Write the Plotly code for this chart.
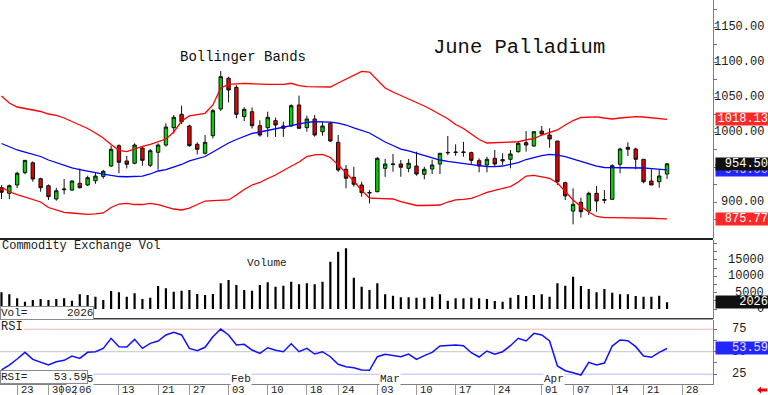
import plotly.graph_objects as go

# ---------------- data ----------------
dates = [
    "2024-12-19", "2024-12-20", "2024-12-23", "2024-12-24", "2024-12-26", "2024-12-27", "2024-12-30", "2024-12-31",
    "2025-01-02", "2025-01-03", "2025-01-06", "2025-01-07", "2025-01-08", "2025-01-09", "2025-01-10", "2025-01-13",
    "2025-01-14", "2025-01-15", "2025-01-16", "2025-01-17", "2025-01-21", "2025-01-22", "2025-01-23", "2025-01-24",
    "2025-01-27", "2025-01-28", "2025-01-29", "2025-01-30", "2025-01-31",
    "2025-02-03", "2025-02-04", "2025-02-05", "2025-02-06", "2025-02-07", "2025-02-10", "2025-02-11", "2025-02-12",
    "2025-02-13", "2025-02-14", "2025-02-18", "2025-02-19", "2025-02-20", "2025-02-21", "2025-02-24", "2025-02-25",
    "2025-02-26", "2025-02-27", "2025-02-28",
    "2025-03-03", "2025-03-04", "2025-03-05", "2025-03-06", "2025-03-07", "2025-03-10", "2025-03-11", "2025-03-12",
    "2025-03-13", "2025-03-14", "2025-03-17", "2025-03-18", "2025-03-19", "2025-03-20", "2025-03-21", "2025-03-24",
    "2025-03-25", "2025-03-26", "2025-03-27", "2025-03-28", "2025-03-31",
    "2025-04-01", "2025-04-02", "2025-04-03", "2025-04-04", "2025-04-07", "2025-04-08", "2025-04-09", "2025-04-10",
    "2025-04-11", "2025-04-14", "2025-04-15", "2025-04-16", "2025-04-17", "2025-04-21", "2025-04-22", "2025-04-23",
    "2025-04-24",
]
future_dates = ["2025-04-25", "2025-04-28"]

opens = [920.4, 912.4, 924.3, 941.9, 956.0, 933.3, 923.3, 904.3, 917.5, 917.0,
         926.7, 924.3, 930.4, 936.6, 951.4, 980.4, 958.6, 955.3, 977.1, 952.4,
         971.0, 981.4, 1006.2, 1025.3, 1008.6, 982.4, 969.6, 994.7, 1032.9, 1076.7,
         1063.8, 1021.9, 1029.0, 1009.0, 1006.2, 1016.2, 1008.6, 1008.6, 1038.6, 1006.2,
         1018.6, 1000.4, 1012.4, 985.3, 946.7, 935.3, 924.3, 912.8, 914.7, 948.1,
         953.6, 954.3, 948.1, 951.4, 939.6, 947.1, 954.3, 970.2, 970.7, 970.7,
         970.5, 959.0, 952.9, 962.4, 958.6, 961.0, 971.9, 984.8, 980.0, 1001.4,
         995.7, 987.1, 927.6, 887.1, 899.6, 887.1, 912.4, 902.4, 903.8, 953.9,
         978.1, 975.7, 961.0, 930.0, 929.0, 940.0]
highs = [924.0, 925.0, 943.3, 960.0, 958.0, 934.7, 925.0, 920.4, 932.9, 931.0,
         948.0, 937.6, 942.4, 945.7, 980.4, 982.4, 965.7, 983.8, 979.0, 975.7,
         983.8, 1012.4, 1024.3, 1037.6, 1010.4, 985.3, 995.7, 1032.9, 1087.0, 1079.0,
         1067.0, 1035.3, 1035.0, 1016.7, 1029.0, 1020.5, 1014.7, 1039.5, 1051.9, 1023.3,
         1024.3, 1014.7, 1013.8, 995.7, 952.9, 950.4, 929.0, 917.0, 964.0, 961.4,
         968.6, 960.0, 961.4, 971.9, 950.4, 960.5, 970.0, 994.3, 982.4, 986.0,
         971.9, 962.4, 964.8, 974.3, 969.6, 974.3, 987.1, 1001.4, 1001.4, 1008.6,
         1005.3, 987.1, 929.0, 919.6, 906.2, 914.7, 922.9, 917.0, 953.9, 977.6,
         985.3, 977.6, 961.0, 946.7, 946.7, 955.5]
lows = [904.3, 904.0, 920.0, 939.6, 929.0, 914.7, 902.9, 901.9, 911.0, 916.0,
        919.5, 922.9, 926.0, 933.3, 950.0, 941.0, 948.0, 953.9, 951.9, 950.0,
        946.1, 979.0, 998.0, 1011.4, 979.0, 968.0, 968.0, 991.0, 1030.0, 1042.4,
        1019.6, 1015.7, 1005.0, 993.3, 993.0, 993.0, 993.0, 1007.6, 1004.3, 1000.4,
        993.3, 994.7, 986.1, 943.3, 919.6, 921.9, 907.6, 898.0, 914.0, 936.0,
        943.3, 936.0, 942.4, 937.6, 932.4, 940.0, 940.0, 967.0, 966.0, 964.7,
        952.9, 942.4, 942.4, 951.4, 952.9, 948.1, 970.5, 971.9, 979.0, 995.7,
        977.6, 924.3, 902.9, 868.1, 877.6, 881.4, 886.2, 898.0, 903.8, 941.0,
        965.7, 946.7, 926.7, 924.3, 920.4, 932.9]
closes = [913.9, 923.3, 941.0, 959.5, 932.9, 920.4, 907.6, 916.0, 918.5, 930.0,
          920.4, 934.7, 937.0, 943.9, 975.3, 956.7, 953.9, 981.4, 959.5, 973.3,
          981.4, 1007.1, 1021.0, 1014.7, 980.5, 975.3, 985.3, 1030.4, 1079.0, 1060.0,
          1025.3, 1032.4, 1009.0, 995.7, 1021.0, 1010.0, 1005.3, 1037.6, 1005.3, 1018.6,
          995.7, 1008.6, 987.1, 945.7, 933.9, 925.3, 913.3, 913.6, 962.4, 954.3,
          954.2, 949.6, 955.3, 940.0, 946.7, 952.9, 969.6, 970.8, 971.3, 971.3,
          959.5, 951.4, 961.0, 954.3, 960.5, 968.6, 983.8, 981.4, 1000.4, 997.1,
          990.0, 929.0, 908.6, 896.7, 886.2, 912.4, 901.4, 903.4, 951.9, 975.7,
          975.3, 961.0, 929.0, 924.3, 937.1, 954.5]

bb_upper = [1051.4, 1041.4, 1035.7, 1033.6, 1031.4, 1029.3, 1025.7, 1023.6, 1020.0, 1015.0,
            1010.0, 1005.0, 998.6, 991.4, 982.1, 973.6, 971.9, 976.0, 979.3, 982.4,
            985.7, 990.0, 1000.0, 1015.7, 1022.9, 1025.0, 1026.7, 1038.6, 1062.9, 1068.1,
            1069.3, 1069.6, 1068.9, 1068.1, 1068.1, 1068.1, 1068.1, 1069.6, 1066.4, 1064.7,
            1064.7, 1064.7, 1064.3, 1070.0, 1075.7, 1081.4, 1086.7, 1085.7, 1074.3, 1062.9,
            1057.1, 1052.1, 1047.9, 1042.9, 1037.1, 1031.4, 1025.7, 1018.9, 1010.7, 1005.0,
            997.1, 989.3, 984.3, 984.6, 985.0, 985.7, 986.1, 988.6, 990.7, 995.7,
            999.3, 1002.9, 1010.0, 1016.4, 1020.7, 1021.4, 1021.7, 1020.0, 1018.6, 1020.0,
            1021.4, 1021.9, 1021.4, 1020.0, 1018.9, 1018.13]
bb_mid = [983.6, 979.3, 974.3, 971.4, 968.6, 965.0, 960.0, 956.4, 952.9, 948.6,
          946.4, 943.9, 942.1, 939.7, 937.9, 936.4, 936.1, 936.1, 937.1, 940.0,
          944.3, 946.4, 950.0, 953.6, 958.6, 962.1, 965.0, 971.4, 977.9, 984.3,
          989.3, 993.1, 997.9, 1000.0, 1002.4, 1004.6, 1007.1, 1008.9, 1011.1, 1013.6,
          1014.7, 1014.7, 1014.0, 1012.6, 1010.0, 1006.0, 1002.1, 998.6, 992.1, 985.7,
          980.7, 975.7, 972.9, 969.7, 966.4, 962.9, 960.0, 958.1, 956.4, 955.0,
          953.6, 952.1, 950.7, 950.4, 951.4, 953.6, 956.4, 960.7, 963.6, 966.4,
          968.1, 967.1, 964.7, 961.4, 957.9, 954.3, 951.4, 949.3, 949.3, 949.6,
          949.6, 949.6, 948.6, 947.6, 946.7, 946.0]
bb_lower = [921.4, 914.6, 910.7, 907.1, 903.6, 900.0, 892.1, 888.6, 885.3, 884.3,
            883.1, 882.4, 883.1, 884.3, 892.1, 897.1, 898.1, 896.4, 896.4, 898.1,
            896.4, 893.6, 890.0, 888.6, 891.4, 896.4, 901.4, 901.9, 902.4, 902.9,
            910.0, 917.9, 924.3, 927.9, 933.6, 938.6, 945.0, 950.7, 957.1, 965.0,
            967.4, 968.1, 963.6, 953.0, 942.0, 930.0, 916.4, 905.7, 905.3, 905.0,
            904.3, 900.4, 897.9, 895.0, 895.0, 895.4, 895.7, 900.0, 902.9, 903.8,
            905.3, 909.3, 913.6, 916.7, 919.0, 922.1, 928.6, 937.1, 938.1, 936.4,
            933.9, 927.1, 914.3, 902.9, 893.6, 885.7, 879.3, 877.6, 877.6, 877.6,
            877.6, 877.6, 877.3, 876.8, 876.3, 875.77]

volume = [5100, 4500, 3260, 2240, 2750, 3060, 2750, 3060, 3260, 2550,
          4500, 4300, 3770, 2750, 5500, 5100, 3770, 4800, 3060, 3470,
          7040, 6320, 5300, 5610, 5810, 4590, 4280, 4590, 7850, 8870,
          7340, 5810, 5610, 7340, 8160, 6830, 7140, 8360, 7550, 7850,
          7550, 8360, 14480, 17540, 18560, 9590, 6830, 5810, 7850, 4490,
          4080, 3570, 3570, 3470, 3470, 3770, 4490, 2550, 3260, 3260,
          3470, 3260, 3060, 2450, 2240, 3470, 4280, 3980, 4280, 4490,
          3770, 7850, 7140, 9890, 7040, 6120, 5100, 6120, 5000, 4490,
          4490, 3980, 3770, 3770, 4080, 2026]

rsi = [29.7, 35.2, 41.9, 49.3, 41.5, 38.2, 35.2, 38.9, 40.4, 45.2,
       42.6, 49.3, 50.0, 53.7, 64.9, 55.6, 55.2, 63.7, 53.7, 59.3,
       61.9, 68.6, 71.5, 68.6, 53.7, 51.1, 54.9, 66.7, 75.2, 68.6,
       57.4, 58.2, 51.9, 48.2, 54.4, 51.6, 50.0, 58.9, 50.0, 53.7,
       47.4, 50.0, 44.4, 36.0, 33.3, 32.2, 29.7, 29.3, 44.4, 47.1,
       45.6, 44.4, 47.4, 41.5, 45.6, 49.3, 56.3, 56.7, 57.4, 56.7,
       48.9, 44.1, 50.8, 47.1, 50.0, 56.7, 64.9, 61.9, 70.4, 68.6,
       61.9, 34.1, 28.9, 26.7, 24.1, 38.2, 35.2, 37.4, 56.3, 63.0,
       62.2, 55.6, 45.2, 43.8, 49.3, 53.59]

price_ticks = [900, 950, 1000, 1050, 1100, 1150]
vol_ticks = [0, 5000, 10000, 15000]
rsi_ticks = [25, 50, 75]
day_labels = [("2024-12-23", "23"), ("2024-12-30", "30"), ("2025-01-02", "02"), ("2025-01-06", "06"),
              ("2025-01-13", "13"), ("2025-01-21", "21"), ("2025-01-27", "27"), ("2025-02-03", "03"),
              ("2025-02-10", "10"), ("2025-02-18", "18"), ("2025-02-24", "24"), ("2025-03-03", "03"),
              ("2025-03-10", "10"), ("2025-03-17", "17"), ("2025-03-24", "24"), ("2025-04-01", "01"),
              ("2025-04-07", "07"), ("2025-04-14", "14"), ("2025-04-21", "21"), ("2025-04-28", "28")]
month_labels = [("2025-01-02", "2025"), ("2025-02-03", "Feb"), ("2025-03-03", "Mar"), ("2025-04-01", "Apr")]

# crowded labels are nudged left (pixel offsets, layout only)
label_nudge_px = {"2025-01-02": -2.5, "2025-01-06": -4.5}

# ---------------- figure ----------------
axis_dates = dates + future_dates
xi = list(range(len(dates)))
FONT = "Liberation Mono"
NB = "\u00a0"

W, H = 768, 395
ML, MR, MT, MB = 0, 55, 0, 11
PW, PH = W - ML - MR, H - MT - MB  # 713 x 384
X0, X1 = -0.19, 90.87
PX_PER_DAY = PW / (X1 - X0)


def px_x(px):
    return px / PW


def px_y(py):
    return (PH - py) / PH


fig = go.Figure()

fig.add_trace(go.Candlestick(
    x=xi, open=opens, high=highs, low=lows, close=closes,
    xaxis="x", yaxis="y", whiskerwidth=0,
    increasing=dict(fillcolor="#00d400", line=dict(color="#101010", width=1)),
    decreasing=dict(fillcolor="#e80000", line=dict(color="#101010", width=1)),
    showlegend=False, hoverinfo="skip"))

for arr, col in ((bb_upper, "#ff0000"), (bb_lower, "#ff0000"), (bb_mid, "#0000ff")):
    fig.add_trace(go.Scatter(x=xi, y=arr, mode="lines", line=dict(color=col, width=1.3),
                             xaxis="x", yaxis="y", showlegend=False, hoverinfo="skip"))

fig.add_trace(go.Bar(x=xi, y=volume, marker=dict(color="#000000", line=dict(width=0)), width=0.28,
                     xaxis="x", yaxis="y2", showlegend=False, hoverinfo="skip"))

fig.add_trace(go.Scatter(x=xi, y=rsi, mode="lines", line=dict(color="#1010ff", width=1.5),
                         xaxis="x", yaxis="y3", showlegend=False, hoverinfo="skip"))

tick_pos = [axis_dates.index(d) + label_nudge_px.get(d, 0.0) / PX_PER_DAY for d, _ in day_labels]

common_y = dict(side="right", showgrid=False, zeroline=False, showticklabels=False,
                ticks="outside", ticklen=3, tickcolor="#707070", showline=True,
                linecolor="#808080", linewidth=1, anchor="x", fixedrange=True)

fig.update_layout(
    width=W, height=H, margin=dict(l=ML, r=MR, t=MT, b=MB),
    paper_bgcolor="white", plot_bgcolor="white", boxgap=0.38,
    xaxis=dict(range=[X0, X1], anchor="y3", showgrid=False, zeroline=False,
               showticklabels=False, ticks="outside", ticklen=11, tickcolor="#9a9a9a",
               tickvals=tick_pos, showline=True, linecolor="#808080", linewidth=1,
               rangeslider=dict(visible=False), fixedrange=True),
    yaxis=dict(domain=[px_y(238), 1], range=[848.57, 1188.57],
               tickvals=list(range(875, 1200, 25)), **common_y),
    yaxis2=dict(domain=[px_y(318.5), px_y(240)], range=[-2905, 21100],
                tickvals=list(range(0, 22500, 2500)), **common_y),
    yaxis3=dict(domain=[0, px_y(319.5)], range=[14.1, 85.8],
                tickvals=[25, 37.5, 50, 62.5, 75], **common_y),
)

shapes = []
# RSI reference levels
for lvl, col in ((75, "#ffb4b4"), (50, "#c4c4c4"), (25, "#b8b8ff")):
    shapes.append(dict(type="line", xref="paper", yref="y3", x0=0, x1=1, y0=lvl, y1=lvl,
                       line=dict(color=col, width=1), layer="below"))
# panel separators
shapes.append(dict(type="line", xref="paper", yref="paper", x0=0, x1=1, y0=px_y(239), y1=px_y(239),
                   line=dict(color="#202020", width=2), layer="above"))
shapes.append(dict(type="line", xref="paper", yref="paper", x0=0, x1=1, y0=px_y(318.7), y1=px_y(318.7),
                   line=dict(color="#404040", width=1.5), layer="above"))
# red arrow bottom right
pts = [(757, 390), (761, 386.5), (761, 388.5), (767, 388.5), (767, 391.5), (761, 391.5), (761, 393.5)]
path = "M " + " L ".join(f"{px_x(a):.5f},{px_y(b):.5f}" for a, b in pts) + " Z"
shapes.append(dict(type="path", xref="paper", yref="paper", path=path,
                   fillcolor="#ee0000", line=dict(width=0), layer="above"))
fig.update_layout(shapes=shapes)

ann = []


def text(x, y, s, size=12, xref="paper", yref="paper", xanchor="left", yanchor="middle",
         color="#202020", **kw):
    ann.append(dict(x=x, y=y, xref=xref, yref=yref, text=s, showarrow=False, xanchor=xanchor,
                    yanchor=yanchor, font=dict(family=FONT, size=size, color=color), **kw))


# right-side axis labels
for v in price_ticks:
    text(px_x(766), v, f"{v:.2f}", yref="y", xanchor="right")
for v in vol_ticks:
    text(px_x(766), v, f"{v}", yref="y2", xanchor="right", size=12)
for v in rsi_ticks:
    text(px_x(730), v, f"{v}", yref="y3", xanchor="left", size=12)

# value boxes on right
box = dict(width=52, height=12, align="right", borderpad=0, xanchor="left")
text(px_x(714.5), bb_mid[-1], f"{bb_mid[-1]:.2f}", yref="y", color="#d8d8ff", bgcolor="#2424ff", **box)
text(px_x(714.5), closes[-1], f"{closes[-1]:.2f}", yref="y", color="white", bgcolor="#101010", **box)
text(px_x(714.5), bb_upper[-1], f"{bb_upper[-1]:.2f}", yref="y", color="white", bgcolor="#ff2828", **box)
text(px_x(714.5), bb_lower[-1], f"{bb_lower[-1]:.2f}", yref="y", color="white", bgcolor="#ff2828", **box)
text(px_x(714.5), volume[-1], f"{volume[-1]}", yref="y2", color="white", bgcolor="#101010", **box)
text(px_x(714.5), rsi[-1], f"{rsi[-1]:.2f}", yref="y3", color="#e0e0ff", bgcolor="#2424ff", **box)

# titles
text(px_x(519), px_y(47), "June Palladium", size=20.5, xanchor="center", color="#101010")
text(px_x(243), px_y(57), "Bollinger Bands", size=14, xanchor="center", color="#101010")
text(0, px_y(246), "Commodity Exchange Vol", size=12)
text(px_x(267), px_y(263), "Volume", size=11, xanchor="center")
text(0, px_y(327), "RSI", size=12, bgcolor="white", borderpad=0)

# month labels
for d, s in month_labels:
    text(axis_dates.index(d), px_y(378.5), s, size=11, xref="x", bgcolor="white", borderpad=0, xshift=1.5)

# left value boxes
text(0, px_y(312.8), f"Vol={NB * 6}{volume[-1]}", size=11, bgcolor="white",
     bordercolor="#8c8c8c", borderwidth=1, borderpad=0)
text(0, px_y(376.5), f"RSI={NB * 4}{rsi[-1]:.2f}", size=11, bgcolor="white",
     bordercolor="#8c8c8c", borderwidth=1, borderpad=0)

# day labels below
for d, s in day_labels:
    text(axis_dates.index(d), px_y(390), s, size=10.5, xref="x", xshift=1.5 + label_nudge_px.get(d, 0.0))

fig.update_layout(annotations=ann)

fig.write_html("out.html", config={"displayModeBar": False},
               post_script="document.body.style.margin='0px';document.body.style.overflow='hidden';")
